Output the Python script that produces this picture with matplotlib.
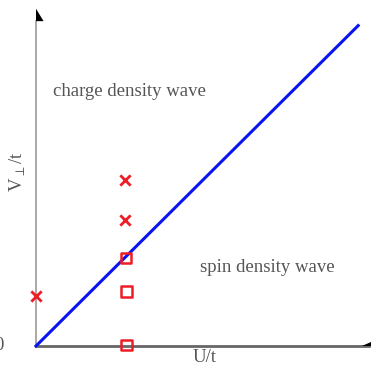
import matplotlib.pyplot as plt
import numpy as np

# phase boundary V = U
boundary_u = [0.0, 3.62]
boundary_v = [0.0, 3.60]

# crosses (charge density wave side)
cross_u = [0.0, 1.0, 1.0]
cross_v = [0.56, 1.87, 1.42]

# squares (spin density wave side)
square_u = [1.01, 1.02, 1.02]
square_v = [0.99, 0.61, 0.01]

unit = 89.0  # pixels per unit
fig = plt.figure(figsize=(3.73, 3.71), dpi=100)
ax = fig.add_axes([0, 0, 1, 1])
ax.set_xlim(-36 / unit, (373 - 36) / unit)
ax.set_ylim(-(371 - 346) / unit, 346 / unit)
ax.axis('off')

# axes lines
ytip = 3.79
ybase = 3.65
xmax = 3.74
ax.plot([0, 0], [0, ybase], color='#999999', lw=1.2, zorder=1)
ax.plot([0, xmax], [0, 0], color='#666666', lw=2.0, zorder=1)
# half arrow heads
ax.fill([0, 0, 0.085], [ybase, ytip, ybase], color='black', lw=0)
ax.fill([xmax - 0.08, xmax + 0.02, xmax + 0.02], [0.0, 0.0, 0.05], color='black', lw=0)

ax.plot(boundary_u, boundary_v, color='#0a14f0', lw=2.2, zorder=2)
ax.scatter(cross_u, cross_v, marker='x', s=55, color='#ee1c25', linewidths=2, zorder=3)
ax.scatter(square_u, square_v, marker='s', s=60, facecolors='none',
           edgecolors='#ee1c25', linewidths=1.8, zorder=3)

font = dict(family=['Liberation Serif', 'DejaVu Serif'], color='#555555')
ax.text(17 / unit, (346 - 92) / unit, 'charge density wave', fontsize=13.5,
        ha='left', va='center', **font)
ax.text(164 / unit, (346 - 268) / unit, 'spin density wave', fontsize=13.5,
        ha='left', va='center', **font)
ax.text(157 / unit, (346 - 358) / unit, 'U/t', fontsize=13.5,
        ha='left', va='center', **font)
ax.text(-18 / unit, (346 - 172) / unit, 'V$_{\\perp}$/t', fontsize=13.5, rotation=90,
        ha='center', va='center', **font)
ax.text(-32 / unit, (346 - 346) / unit, '0', fontsize=13.5,
        ha='right', va='center', **font)

fig.savefig('out.png', dpi=100)
